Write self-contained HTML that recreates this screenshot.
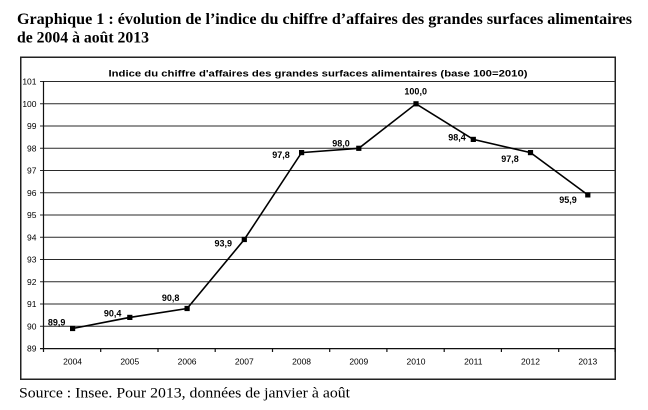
<!DOCTYPE html>
<html><head><meta charset="utf-8"><style>
html,body{margin:0;padding:0;background:#fff;}
svg{display:block;}
</style></head><body>
<svg width="648" height="410" viewBox="0 0 648 410" xmlns="http://www.w3.org/2000/svg">
<rect width="648" height="410" fill="#fff"/>
<g font-family="'Liberation Serif', serif" font-weight="bold" font-size="16" fill="#000">
<text x="17" y="24" textLength="615" lengthAdjust="spacingAndGlyphs">Graphique 1 : évolution de l’indice du chiffre d’affaires des grandes surfaces alimentaires</text>
<text x="17" y="42.7" textLength="132" lengthAdjust="spacingAndGlyphs">de 2004 à août 2013</text>
</g>
<rect x="20.75" y="57.25" width="594.5" height="322" fill="none" stroke="#222" stroke-width="1.5"/>
<text x="318" y="76.5" font-family="'Liberation Sans', sans-serif" font-weight="bold" font-size="9" text-anchor="middle" textLength="419" lengthAdjust="spacingAndGlyphs">Indice du chiffre d'affaires des grandes surfaces alimentaires (base 100=2010)</text>
<g stroke="#2a2a2a" stroke-width="1">
<line x1="40" y1="81.5" x2="615" y2="81.5"/>
<line x1="40" y1="103.8" x2="615" y2="103.8"/>
<line x1="40" y1="126" x2="615" y2="126"/>
<line x1="40" y1="148.3" x2="615" y2="148.3"/>
<line x1="40" y1="170.5" x2="615" y2="170.5"/>
<line x1="40" y1="192.8" x2="615" y2="192.8"/>
<line x1="40" y1="215" x2="615" y2="215"/>
<line x1="40" y1="237.3" x2="615" y2="237.3"/>
<line x1="40" y1="259.5" x2="615" y2="259.5"/>
<line x1="40" y1="281.8" x2="615" y2="281.8"/>
<line x1="40" y1="304" x2="615" y2="304"/>
<line x1="40" y1="326.3" x2="615" y2="326.3"/>
</g>
<g stroke="#111" stroke-width="1.2">
<line x1="40" y1="348.6" x2="615.5" y2="348.6"/>
<line x1="43.5" y1="81" x2="43.5" y2="352"/>
<line x1="100.7" y1="348.6" x2="100.7" y2="352"/>
<line x1="158" y1="348.6" x2="158" y2="352"/>
<line x1="215.2" y1="348.6" x2="215.2" y2="352"/>
<line x1="272.5" y1="348.6" x2="272.5" y2="352"/>
<line x1="329.7" y1="348.6" x2="329.7" y2="352"/>
<line x1="386.9" y1="348.6" x2="386.9" y2="352"/>
<line x1="444.2" y1="348.6" x2="444.2" y2="352"/>
<line x1="501.4" y1="348.6" x2="501.4" y2="352"/>
<line x1="558.7" y1="348.6" x2="558.7" y2="352"/>
<line x1="615" y1="348.6" x2="615" y2="352"/>
</g>
<g font-family="'Liberation Sans', sans-serif" font-size="8.5" fill="#000" text-anchor="end">
<text x="36.5" y="84.5">101</text>
<text x="36.5" y="106.8">100</text>
<text x="36.5" y="129">99</text>
<text x="36.5" y="151.3">98</text>
<text x="36.5" y="173.5">97</text>
<text x="36.5" y="195.8">96</text>
<text x="36.5" y="218">95</text>
<text x="36.5" y="240.3">94</text>
<text x="36.5" y="262.5">93</text>
<text x="36.5" y="284.8">92</text>
<text x="36.5" y="307">91</text>
<text x="36.5" y="329.3">90</text>
<text x="36.5" y="351.6">89</text>
</g>
<g font-family="'Liberation Sans', sans-serif" font-size="8.5" fill="#000" text-anchor="middle">
<text x="72.6" y="364.7">2004</text>
<text x="129.8" y="364.7">2005</text>
<text x="187.1" y="364.7">2006</text>
<text x="244.3" y="364.7">2007</text>
<text x="301.6" y="364.7">2008</text>
<text x="358.8" y="364.7">2009</text>
<text x="416" y="364.7">2010</text>
<text x="473.3" y="364.7">2011</text>
<text x="530.5" y="364.7">2012</text>
<text x="587.8" y="364.7">2013</text>
</g>
<polyline fill="none" stroke="#000" stroke-width="1.6" stroke-linejoin="miter" points="72.6,328.5 129.8,317.4 187.1,308.5 244.3,239.5 301.6,152.6 358.8,148.3 416,103.8 473.3,139.4 530.5,152.6 587.8,194.9"/>
<g fill="#000">
<rect x="70" y="325.9" width="5.2" height="5.2"/>
<rect x="127.2" y="314.8" width="5.2" height="5.2"/>
<rect x="184.5" y="305.9" width="5.2" height="5.2"/>
<rect x="241.7" y="236.9" width="5.2" height="5.2"/>
<rect x="299" y="150" width="5.2" height="5.2"/>
<rect x="356.2" y="145.7" width="5.2" height="5.2"/>
<rect x="413.4" y="101.2" width="5.2" height="5.2"/>
<rect x="470.7" y="136.8" width="5.2" height="5.2"/>
<rect x="527.9" y="150" width="5.2" height="5.2"/>
<rect x="585.2" y="192.3" width="5.2" height="5.2"/>
</g>
<g font-family="'Liberation Sans', sans-serif" font-weight="bold" font-size="9" fill="#000" text-anchor="middle">
<text x="56.7" y="325.5">89,9</text>
<text x="112.7" y="316.5">90,4</text>
<text x="170.7" y="300.9">90,8</text>
<text x="223.3" y="246.5">93,9</text>
<text x="281" y="158.2">97,8</text>
<text x="341" y="146.5">98,0</text>
<text x="415.7" y="94.5">100,0</text>
<text x="457" y="140.5">98,4</text>
<text x="510" y="161.9">97,8</text>
<text x="568" y="203.2">95,9</text>
</g>
<text x="19" y="397.3" font-family="'Liberation Serif', serif" font-size="15" fill="#000" textLength="331" lengthAdjust="spacingAndGlyphs">Source : Insee. Pour 2013, données de janvier à août</text>
</svg>
</body></html>
